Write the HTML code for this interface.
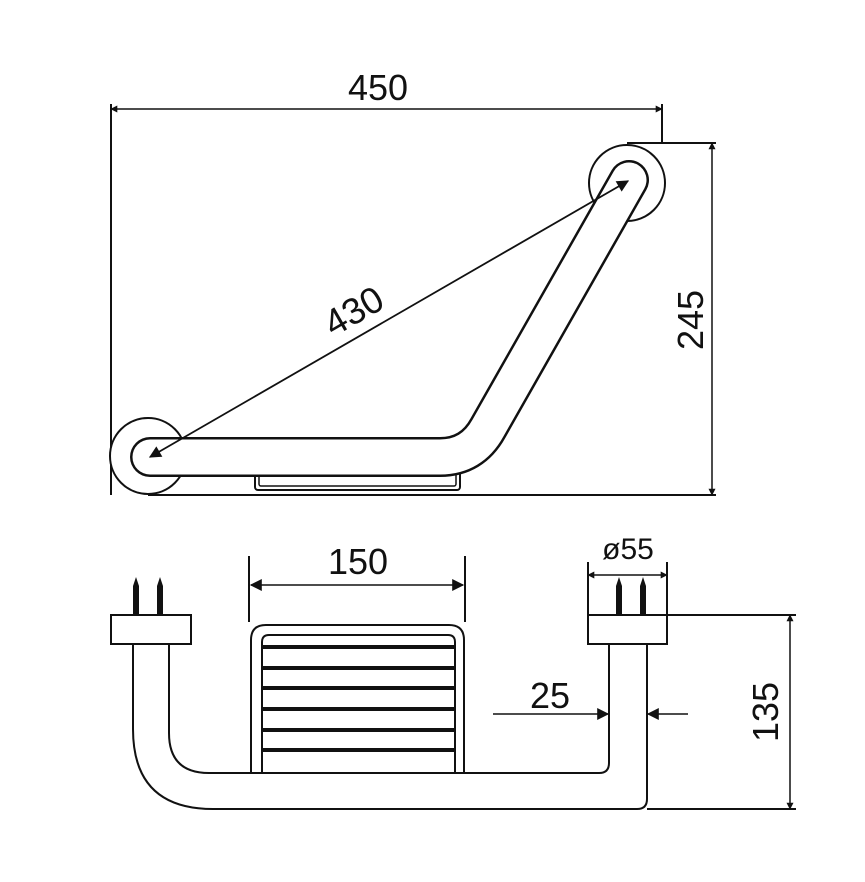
<!DOCTYPE html>
<html><head><meta charset="utf-8"><style>
html,body{margin:0;padding:0;background:#fff}
svg{display:block}
text{font-family:"Liberation Sans",sans-serif;fill:#111}
</style></head><body>
<svg width="865" height="882" viewBox="0 0 865 882" xmlns="http://www.w3.org/2000/svg">
<defs>
<marker id="a" viewBox="0 0 10 10" refX="9" refY="5" markerWidth="7" markerHeight="7" orient="auto-start-reverse" markerUnits="userSpaceOnUse"><path d="M0,0 L10,5 L0,10 z" fill="#111"/></marker>
<marker id="b" viewBox="0 0 10 10" refX="9" refY="5" markerWidth="14" markerHeight="12" orient="auto-start-reverse" markerUnits="userSpaceOnUse"><path d="M0,0 L10,5 L0,10 z" fill="#111"/></marker>
</defs>
<g stroke="#111" fill="none" stroke-width="2">
<line x1="111" y1="104" x2="111" y2="495"/>
<line x1="662" y1="104" x2="662" y2="143"/>
<line x1="111" y1="109" x2="662" y2="109" stroke-width="1.5" marker-start="url(#a)" marker-end="url(#a)"/>
<line x1="627" y1="143" x2="716" y2="143"/>
<line x1="148" y1="495" x2="716" y2="495"/>
<line x1="712" y1="143" x2="712" y2="495" stroke-width="1.5" marker-start="url(#a)" marker-end="url(#a)"/>
<rect x="255" y="468" width="205" height="22" rx="3"/>
<rect x="259" y="468" width="197" height="18" rx="2" stroke-width="1.5"/>
<path d="M298,468 L300,475 L410,475 L414,468" stroke-width="1.5"/>
<circle cx="148" cy="456" r="38" fill="#fff"/>
<circle cx="627" cy="183" r="38" fill="#fff"/>
</g>
<path d="M150,457 L440,457 Q472,457 488,428 L629,180" stroke="#111" stroke-width="40" fill="none" stroke-linecap="round" stroke-linejoin="round"/>
<path d="M150,457 L440,457 Q472,457 488,428 L629,180" stroke="#fff" stroke-width="35" fill="none" stroke-linecap="round" stroke-linejoin="round"/>
<line x1="150" y1="457" x2="628" y2="181" stroke="#111" stroke-width="1.8" marker-start="url(#b)" marker-end="url(#b)"/>
<text x="0" y="0" font-size="37" transform="translate(360,322) rotate(-30)" text-anchor="middle">430</text>
<text x="378" y="100" font-size="36" text-anchor="middle">450</text>
<text font-size="36" text-anchor="middle" transform="translate(703,320) rotate(-90)">245</text>

<g stroke="#111" fill="none" stroke-width="2">
<path d="M133,644 L133,729 Q133,809 213,809 L637,809 Q647,809 647,799 L647,644"/>
<path d="M169,644 L169,733 Q169,773 209,773 L599,773 Q609,773 609,763 L609,644"/>
<rect x="111" y="615" width="80" height="29" fill="#fff"/>
<rect x="588" y="615" width="79" height="29" fill="#fff"/>
<path d="M251,773 L251,640 Q251,625 266,625 L449,625 Q464,625 464,640 L464,773"/>
<path d="M262,773 L262,642 Q262,635 269,635 L448,635 Q455,635 455,642 L455,773"/>
<line x1="249" y1="556" x2="249" y2="622"/>
<line x1="465" y1="556" x2="465" y2="622"/>
<line x1="251" y1="585" x2="463" y2="585" stroke-width="1.5" marker-start="url(#b)" marker-end="url(#b)"/>
<line x1="588" y1="562" x2="588" y2="615"/>
<line x1="667" y1="562" x2="667" y2="615"/>
<line x1="588" y1="575" x2="667" y2="575" stroke-width="1.5" marker-start="url(#a)" marker-end="url(#a)"/>
<line x1="493" y1="714" x2="608" y2="714" stroke-width="1.5" marker-end="url(#b)"/>
<line x1="688" y1="714" x2="648" y2="714" stroke-width="1.5" marker-end="url(#b)"/>
<line x1="667" y1="615" x2="796" y2="615"/>
<line x1="647" y1="809" x2="796" y2="809"/>
<line x1="790" y1="615" x2="790" y2="809" stroke-width="1.5" marker-start="url(#a)" marker-end="url(#a)"/>
</g>
<g fill="#111">
<rect x="262" y="645" width="193" height="4"/>
<rect x="262" y="666" width="193" height="4"/>
<rect x="262" y="686" width="193" height="4"/>
<rect x="262" y="707" width="193" height="4"/>
<rect x="262" y="728" width="193" height="4"/>
<rect x="262" y="748" width="193" height="4"/>
<path d="M133,615 L133,586 L136,577 L139,586 L139,615z"/>
<path d="M157,615 L157,586 L160,577 L163,586 L163,615z"/>
<path d="M616,615 L616,586 L619,577 L622,586 L622,615z"/>
<path d="M640,615 L640,586 L643,577 L646,586 L646,615z"/>
</g>
<text x="358" y="574" font-size="36" text-anchor="middle">150</text>
<text x="628" y="559" font-size="30" text-anchor="middle">ø55</text>
<text x="550" y="708" font-size="36" text-anchor="middle">25</text>
<text font-size="36" text-anchor="middle" transform="translate(778,712) rotate(-90)">135</text>
</svg>
</body></html>
